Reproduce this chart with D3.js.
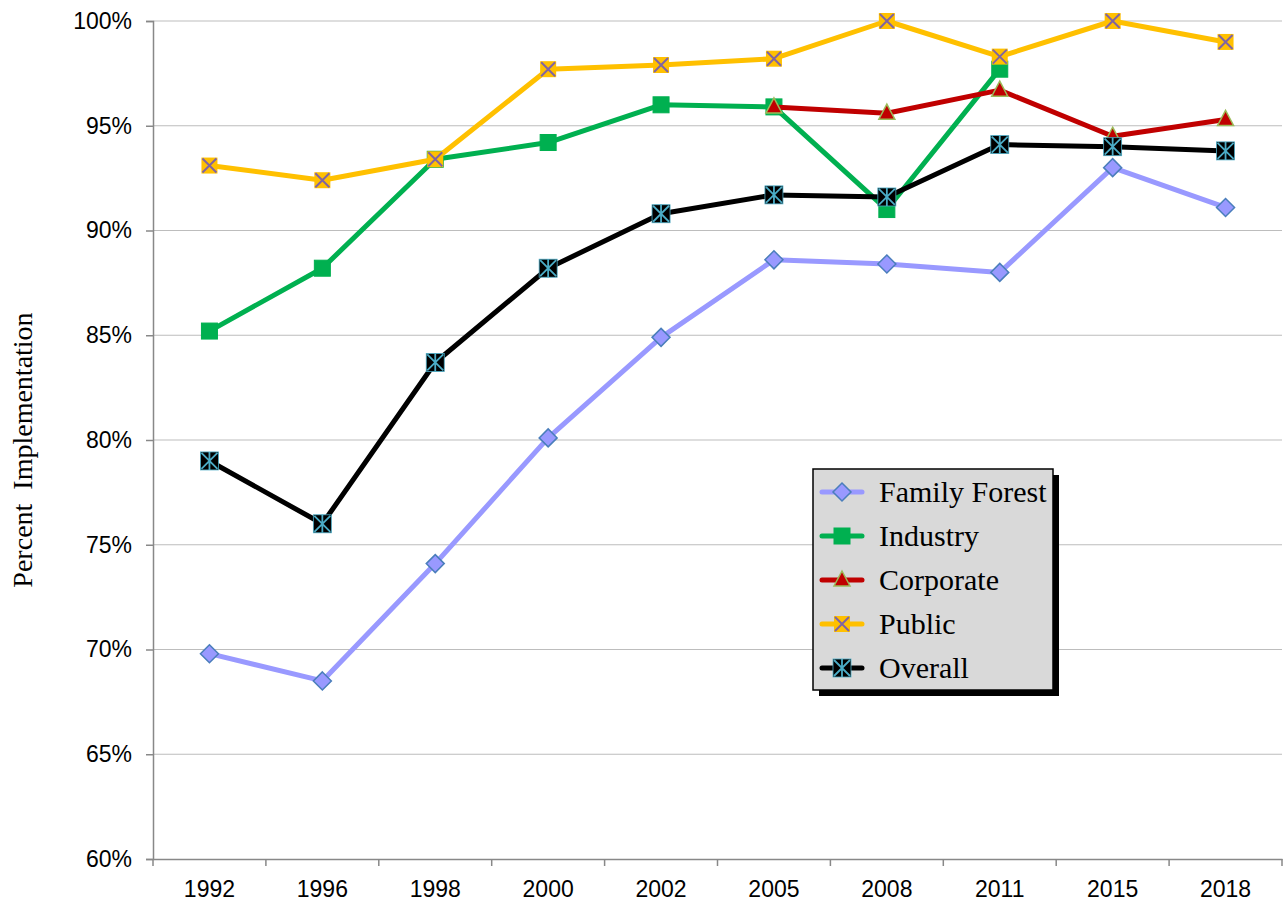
<html>
<head>
<script src="https://d3js.org/d3.v7.min.js"></script>
<style>
  body { margin: 0; background: white; }
  svg { display: block; }
</style>
</head>
<body>
<svg id="chart" width="1283" height="903"></svg>
<script>
const years = ["1992", "1996", "1998", "2000", "2002", "2005", "2008", "2011", "2015", "2018"];
const familyForest = [69.8, 68.5, 74.1, 80.1, 84.9, 88.6, 88.4, 88.0, 93.0, 91.1];
const industry = [85.2, 88.2, 93.4, 94.2, 96.0, 95.9, 91.0, 97.7, null, null];
const corporate = [null, null, null, null, null, 95.9, 95.6, 96.7, 94.5, 95.3];
const publicLand = [93.1, 92.4, 93.4, 97.7, 97.9, 98.2, 100, 98.3, 100, 99.0];
const overall = [79.0, 76.0, 83.7, 88.2, 90.8, 91.7, 91.6, 94.1, 94.0, 93.8];
const yTicks = [60, 65, 70, 75, 80, 85, 90, 95, 100];

const series = [
  { name: "Family Forest", values: familyForest, color: "#9999ff", marker: "diamond" },
  { name: "Industry", values: industry, color: "#00b050", marker: "square" },
  { name: "Corporate", values: corporate, color: "#c00000", marker: "triangle" },
  { name: "Public", values: publicLand, color: "#ffc000", marker: "cross" },
  { name: "Overall", values: overall, color: "#000000", marker: "star" }
];

const svg = d3.select("#chart");
const margin = { top: 21, right: 1, bottom: 44, left: 153 };
const width = 1283 - margin.left - margin.right;
const height = 903 - margin.top - margin.bottom;

const g = svg.append("g").attr("transform", "translate(" + margin.left + "," + margin.top + ")");

const x = d3.scaleBand().domain(years).range([0, width]);
const y = d3.scaleLinear().domain([60, 100]).range([height, 0]);

// gridlines
g.selectAll("line.grid").data(yTicks.slice(1))
  .join("line")
  .attr("class", "grid")
  .attr("x1", 0).attr("x2", width)
  .attr("y1", d => y(d)).attr("y2", d => y(d))
  .attr("stroke", "#bdbdbd").attr("stroke-width", 1.2);

// y axis
const yAxis = g.append("g")
  .call(d3.axisLeft(y).tickValues(yTicks).tickFormat(d => d + "%").tickSize(7).tickPadding(14));
yAxis.select(".domain").attr("stroke", "#888").attr("stroke-width", 1.5);
yAxis.selectAll(".tick line").attr("stroke", "#888").attr("stroke-width", 1.5);
yAxis.selectAll("text").attr("font-family", "Liberation Sans, Arial").attr("font-size", 23).attr("fill", "#000");

// x axis
const xAxis = g.append("g").attr("transform", "translate(0," + height + ")")
  .call(d3.axisBottom(x).tickSize(0).tickPadding(22));
xAxis.select(".domain").attr("stroke", "#888").attr("stroke-width", 1.5);
xAxis.selectAll("text").attr("font-family", "Liberation Sans, Arial").attr("font-size", 23).attr("fill", "#000");
xAxis.selectAll("line.sep").data(years.concat(["end"]))
  .join("line")
  .attr("class", "sep")
  .attr("x1", (d, i) => i * x.step()).attr("x2", (d, i) => i * x.step())
  .attr("y1", 0).attr("y2", 7)
  .attr("stroke", "#888").attr("stroke-width", 1.5);

// y label
svg.append("text")
  .attr("transform", "translate(32,450) rotate(-90)")
  .attr("text-anchor", "middle")
  .attr("font-family", "Liberation Serif, Times New Roman")
  .attr("font-size", 28)
  .attr("xml:space", "preserve")
  .style("white-space", "pre")
  .text("Percent  Implementation");

function drawMarker(sel, type, cx, cy) {
  const m = sel.append("g").attr("transform", "translate(" + cx + "," + cy + ")");
  if (type === "diamond") {
    m.append("path").attr("d", "M0,-9L9,0L0,9L-9,0Z")
      .attr("fill", "#9999ff").attr("stroke", "#4a7ebb").attr("stroke-width", 1.5);
  } else if (type === "square") {
    m.append("rect").attr("x", -8).attr("y", -8).attr("width", 16).attr("height", 16)
      .attr("fill", "#00b050").attr("stroke", "#00b050");
  } else if (type === "triangle") {
    m.append("path").attr("d", "M0,-9L8,6L-8,6Z")
      .attr("fill", "#c00000").attr("stroke", "#9bbb59").attr("stroke-width", 1.5);
  } else if (type === "cross") {
    m.append("rect").attr("x", -8).attr("y", -8).attr("width", 16).attr("height", 16)
      .attr("fill", "#ffc000");
    m.append("path").attr("d", "M-7,-7L7,7M7,-7L-7,7")
      .attr("stroke", "#8064a2").attr("stroke-width", 2);
  } else if (type === "star") {
    m.append("rect").attr("x", -9).attr("y", -9).attr("width", 18).attr("height", 18)
      .attr("fill", "#000").attr("stroke", "#4bacc6").attr("stroke-width", 0.8);
    m.append("path").attr("d", "M0,-9L0,9M-8,-8L8,8M8,-8L-8,8")
      .attr("stroke", "#4bacc6").attr("stroke-width", 1.8);
  }
}

const line = d3.line()
  .defined(d => d.v !== null)
  .x(d => x(d.year) + x.bandwidth() / 2)
  .y(d => y(d.v));

series.forEach(s => {
  const pts = years.map((yr, i) => ({ year: yr, v: s.values[i] }));
  g.append("path").datum(pts)
    .attr("d", line)
    .attr("fill", "none")
    .attr("stroke", s.color)
    .attr("stroke-width", 5)
    .attr("stroke-linejoin", "round");
  const mg = g.append("g");
  pts.filter(p => p.v !== null).forEach(p => {
    drawMarker(mg, s.marker, x(p.year) + x.bandwidth() / 2, y(p.v));
  });
});

// legend
const legend = svg.append("g").attr("transform", "translate(813,469)");
legend.append("rect").attr("x", 6).attr("y", 6).attr("width", 240).attr("height", 221).attr("fill", "#000");
legend.append("rect").attr("x", 0).attr("y", 0).attr("width", 240).attr("height", 221)
  .attr("fill", "#d9d9d9").attr("stroke", "#000").attr("stroke-width", 1.5);
series.forEach((s, i) => {
  const ly = 23 + i * 44;
  legend.append("line").attr("x1", 9).attr("x2", 49).attr("y1", ly).attr("y2", ly)
    .attr("stroke", s.color).attr("stroke-width", 5).attr("stroke-linecap", "round");
  drawMarker(legend, s.marker, 29, ly);
  legend.append("text").attr("x", 66).attr("y", ly + 10)
    .attr("font-family", "Liberation Serif, Times New Roman")
    .attr("font-size", 30)
    .text(s.name);
});
</script>
</body>
</html>
